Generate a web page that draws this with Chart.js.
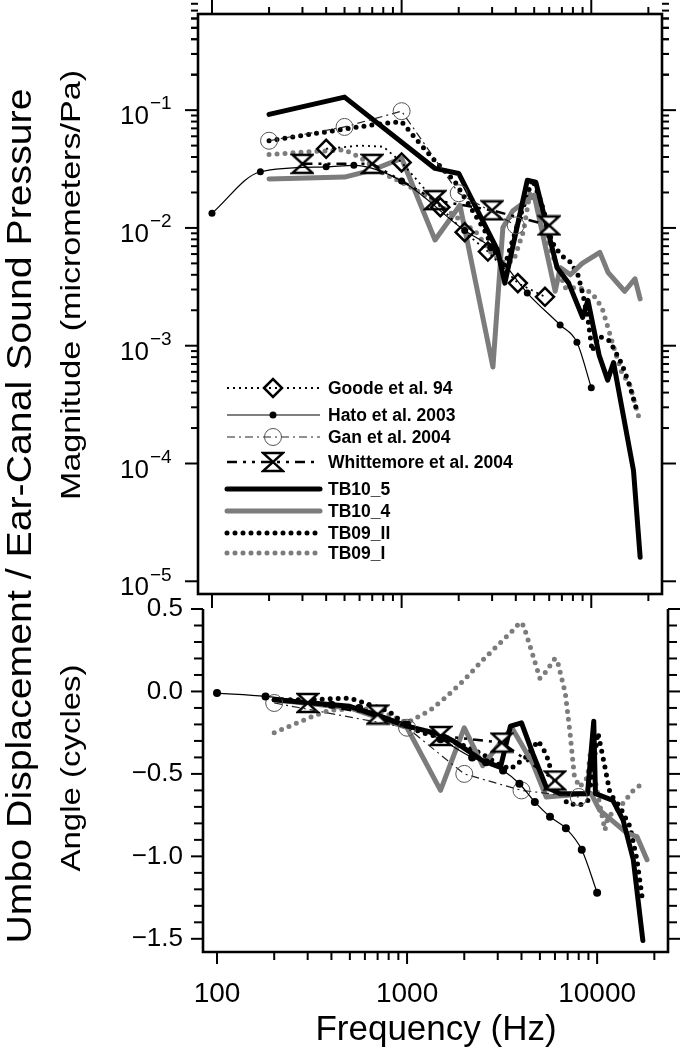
<!DOCTYPE html>
<html>
<head>
<meta charset="utf-8">
<script src="https://cdn.jsdelivr.net/npm/chart.js@4.4.1/dist/chart.umd.min.js"></script>
<style>
  html, body { margin: 0; padding: 0; background: #fff; }
  #wrap { position: relative; width: 680px; height: 1051px; }
  #wrap canvas { position: absolute; left: 0; top: 0; }
</style>
</head>
<body>
<div id="wrap">
  <canvas id="magChart" width="680" height="1051"></canvas>
  <canvas id="angChart" width="680" height="1051"></canvas>
</div>
<script>
const FONT = '"Liberation Sans", Arial, sans-serif';

// axes
const X_MIN = 84.4, X_MAX = 23600;
const xMajorTicks = [100, 1000, 10000];
const xMinorTicks = [200, 300, 400, 500, 600, 700, 800, 900, 2000, 3000, 4000, 5000, 6000, 7000, 8000, 9000, 20000];
const xTickLabels = ['100', '1000', '10000'];

const MAG_MIN = 7.8e-6, MAG_MAX = 0.655;
const magMajorTicks = [1e-1, 1e-2, 1e-3, 1e-4, 1e-5];
const magTickExponents = ['\u22121', '\u22122', '\u22123', '\u22124', '\u22125'];
const magMinorMantissas = [2, 3, 4, 5, 6, 7, 8, 9];

const ANG_MIN = -1.58, ANG_MAX = 0.5;
const angMajorTicks = [0.5, 0, -0.5, -1.0, -1.5];
const angTickLabels = ['0.5', '0.0', '\u22120.5', '\u22121.0', '\u22121.5'];
const angMinorStep = 0.1;

const seriesNames = ['Goode et al. 94', 'Hato et al. 2003', 'Gan et al. 2004', 'Whittemore et al. 2004',
                     'TB10_5', 'TB10_4', 'TB09_II', 'TB09_I'];

// magnitude data (micrometers/Pa)
const goodeMagFreq = [400, 600, 800, 1000, 1600, 2150, 2850, 4100, 5700];
const goodeMag = [0.047, 0.050, 0.049, 0.036, 0.015, 0.0092, 0.0063, 0.0034, 0.0026];
const goodeMarker = [1, 0, 0, 1, 1, 1, 1, 1, 1];

const hatoMagFreq = [100, 180, 400, 560, 1000, 2150, 2950, 4600, 6850, 8400, 10000];
const hatoMag = [0.0133, 0.030, 0.033, 0.034, 0.025, 0.0095, 0.0068, 0.0028, 0.0015, 0.00107, 0.00044];

const ganMagFreq = [200, 500, 1000, 2000, 4000];
const ganMag = [0.055, 0.072, 0.098, 0.0197, 0.0105];

const whitMagFreq = [300, 700, 1500, 3000, 6000];
const whitMag = [0.035, 0.035, 0.0172, 0.0141, 0.0105];

const tb105MagFreq = [200, 500, 1500, 2000, 3200, 3500, 4600, 5100, 6600, 7600, 9000, 9600, 11000, 12200, 13100, 16700, 18100];
const tb105Mag = [0.092, 0.129, 0.032, 0.029, 0.0065, 0.0034, 0.0254, 0.0245, 0.0046, 0.0034, 0.00174, 0.00243, 0.00083, 0.00051, 0.00072, 0.000087, 0.000016];

const tb104MagFreq = [200, 500, 700, 1000, 1500, 2030, 3030, 3420, 3860, 5000, 6450, 6860, 7760, 8960, 11100, 12250, 15000, 17000, 18100];
const tb104Mag = [0.026, 0.027, 0.031, 0.039, 0.0079, 0.0156, 0.00066, 0.0101, 0.014, 0.019, 0.0029, 0.0046, 0.0040, 0.0050, 0.0062, 0.0042, 0.0029, 0.0037, 0.0025];

const tb09iiMagFreq = [200, 300, 500, 700, 1000, 1200, 1500, 1900, 2200, 2800, 3000, 3300, 3500, 4200, 4900, 5400, 5700, 6200, 6900, 7800, 8500, 9000, 9600, 10100, 11000, 12500, 14500, 16000, 17200];
const tb09iiMag = [0.055, 0.061, 0.069, 0.075, 0.080, 0.056, 0.037, 0.025, 0.017, 0.009, 0.0067, 0.0056, 0.0048, 0.0123, 0.026, 0.0172, 0.0128, 0.0076, 0.0059, 0.0051, 0.0040, 0.0028, 0.0017, 0.0009, 0.0012, 0.0011, 0.0007, 0.00045, 0.0003];

const tb09iMagFreq = [200, 300, 500, 600, 800, 1000, 1400, 2000, 2500, 3000, 3500, 3900, 4400, 4750, 5200, 5500, 6100, 7300, 8700, 10100, 11400, 13300, 14500, 16000, 17900];
const tb09iMag = [0.042, 0.044, 0.046, 0.040, 0.029, 0.0245, 0.018, 0.012, 0.009, 0.006, 0.005, 0.0053, 0.0095, 0.020, 0.016, 0.011, 0.0065, 0.0031, 0.0031, 0.0028, 0.0021, 0.00091, 0.00059, 0.00046, 0.00024];

// angle data (cycles)
const hatoAngFreq = [100, 180, 400, 560, 1000, 1500, 2200, 2600, 3200, 3900, 4700, 5650, 6850, 8300, 10000];
const hatoAng = [-0.01, -0.03, -0.08, -0.10, -0.20, -0.29, -0.40, -0.43, -0.48, -0.56, -0.67, -0.76, -0.83, -0.96, -1.22];

const ganAngFreq = [200, 1000, 2000, 4000, 8000];
const ganAng = [-0.07, -0.22, -0.50, -0.60, -0.64];

const whitAngFreq = [300, 700, 1500, 3150, 6000];
const whitAng = [-0.07, -0.14, -0.27, -0.31, -0.54];

const tb105AngFreq = [200, 500, 1000, 1500, 1750, 2500, 3100, 3500, 4000, 4600, 5400, 6400, 8900, 9600, 9800, 12100, 13700, 15500, 17400];
const tb105Ang = [-0.05, -0.09, -0.21, -0.26, -0.30, -0.42, -0.46, -0.21, -0.19, -0.38, -0.58, -0.62, -0.62, -0.18, -0.62, -0.66, -0.78, -1.02, -1.51];

const tb104AngFreq = [200, 500, 1000, 1500, 2000, 2500, 3560, 4600, 5400, 6960, 8100, 9300, 10300, 14400, 16200, 18300];
const tb104Ang = [-0.05, -0.10, -0.22, -0.60, -0.22, -0.45, -0.22, -0.44, -0.64, -0.63, -0.62, -0.62, -0.72, -0.86, -0.88, -1.02];

const tb09iiAngFreq = [200, 300, 500, 600, 800, 1000, 1200, 1500, 2000, 2500, 3000, 3500, 4200, 4900, 5400, 5860, 6960, 8100, 9000, 10100, 11000, 11700, 13200, 14900, 16200, 17400];
const tb09iiAng = [-0.05, -0.05, -0.04, -0.07, -0.12, -0.21, -0.25, -0.28, -0.33, -0.38, -0.44, -0.47, -0.40, -0.30, -0.38, -0.52, -0.68, -0.69, -0.66, -0.25, -0.46, -0.62, -0.70, -0.82, -1.02, -1.28];

const tb09iAngFreq = [200, 320, 390, 560, 780, 1000, 1320, 1600, 2000, 2500, 3000, 3600, 3940, 4100, 4450, 5000, 5300, 6000, 6200, 6800, 7200, 7600, 8100, 8900, 9200, 10300, 11000, 11400, 13200, 15500, 17200];
const tb09iAng = [-0.25, -0.15, -0.115, -0.10, -0.135, -0.19, -0.115, -0.035, 0.07, 0.19, 0.28, 0.37, 0.42, 0.40, 0.27, 0.08, 0.11, 0.20, 0.18, -0.01, -0.25, -0.52, -0.58, -0.52, -0.38, -0.68, -0.84, -0.76, -0.70, -0.60, -0.56];

function pts(f, v) {
    return f.map((x, i) => ({ x: x, y: v[i] }));
}

// hourglass marker used by Whittemore
function makeHourglass() {
    const c = document.createElement('canvas');
    c.width = 24;
    c.height = 22;
    const g = c.getContext('2d');
    g.lineWidth = 2.4;
    g.strokeStyle = '#000';
    g.fillStyle = '#fff';
    g.lineJoin = 'miter';
    g.beginPath();
    g.moveTo(2, 2); g.lineTo(22, 2); g.lineTo(2, 20); g.lineTo(22, 20); g.closePath();
    g.fill();
    g.stroke();
    return c;
}
const hourglass = makeHourglass();

const GRAY = '#7c7c7c';

// dataset styles, one per series, in legend order
function styles(size) {
    return [
        { borderColor: '#000', borderWidth: 1.8, borderDash: [2, 4], pointStyle: 'rectRot', pointRadius: 9,
          pointBorderWidth: 2.5, pointBorderColor: '#000', pointBackgroundColor: 'rgba(0,0,0,0)' },
        { borderColor: '#000', borderWidth: 1.2, cubicInterpolationMode: 'monotone', pointStyle: 'circle',
          pointRadius: size, pointBorderWidth: 0, pointBackgroundColor: '#000', pointBorderColor: '#000' },
        { borderColor: '#222', borderWidth: 1.2, borderDash: [8, 4, 2, 4], pointStyle: 'circle', pointRadius: 8.5,
          pointBorderWidth: 1, pointBorderColor: '#555', pointBackgroundColor: 'rgba(0,0,0,0)' },
        { borderColor: '#000', borderWidth: 2.5, borderDash: [10, 6, 3, 6, 3, 6], pointStyle: hourglass, pointRadius: 10,
          pointBorderWidth: 0 },
        { borderColor: '#000', borderWidth: 5, pointRadius: 0, borderJoinStyle: 'round', borderCapStyle: 'round' },
        { borderColor: GRAY, borderWidth: 5, pointRadius: 0, borderJoinStyle: 'round', borderCapStyle: 'round' },
        { borderColor: '#000', borderWidth: 5, borderDash: [0, 8], borderCapStyle: 'round', pointRadius: 0 },
        { borderColor: GRAY, borderWidth: 5, borderDash: [0, 8], borderCapStyle: 'round', pointRadius: 0 }
    ];
}

function tick(ctx, x1, y1, x2, y2) {
    ctx.beginPath();
    ctx.moveTo(x1, y1);
    ctx.lineTo(x2, y2);
    ctx.stroke();
}

function rotatedText(ctx, text, cx, cy, px, len) {
    ctx.save();
    ctx.font = px + 'px ' + FONT;
    const w = ctx.measureText(text).width;
    ctx.translate(cx, cy);
    ctx.rotate(-Math.PI / 2);
    ctx.scale(len / w, 1);
    ctx.textAlign = 'center';
    ctx.textBaseline = 'middle';
    ctx.fillText(text, 0, 0);
    ctx.restore();
}

function xTickMarks(ctx, xs, y, dir, majorLen, minorLen) {
    ctx.lineWidth = 2;
    xMajorTicks.forEach(v => { const x = xs.getPixelForValue(v); tick(ctx, x, y, x, y + dir * majorLen); });
    xMinorTicks.forEach(v => { const x = xs.getPixelForValue(v); tick(ctx, x, y, x, y + dir * minorLen); });
}

// frame, ticks, labels and legend of the magnitude panel
const magAxes = {
    id: 'magAxes',
    afterDraw(chart) {
        const ctx = chart.ctx, a = chart.chartArea;
        const xs = chart.scales.x, ys = chart.scales.y;
        ctx.save();
        ctx.strokeStyle = '#000';
        ctx.fillStyle = '#000';
        ctx.lineWidth = 2.6;
        ctx.strokeRect(a.left, a.top, a.right - a.left, a.bottom - a.top);

        xTickMarks(ctx, xs, a.top, -1, 14, 7);
        xTickMarks(ctx, xs, a.bottom, 1, 14, 7);

        ctx.lineWidth = 2;
        magMajorTicks.forEach(v => {
            const y = ys.getPixelForValue(v);
            tick(ctx, a.left, y, a.left - 13, y);
            tick(ctx, a.right, y, a.right + 14, y);
        });
        magMajorTicks.slice(0, 4).forEach(d => {
            magMinorMantissas.forEach(m => {
                const v = d * m;
                const y = ys.getPixelForValue(v);
                tick(ctx, a.left, y, a.left - 7, y);
                tick(ctx, a.right, y, a.right + 7, y);
            });
        });
        magMinorMantissas.forEach(m => {
            const v = magMajorTicks[0] * m;
            if (v > MAG_MAX) return;
            const y = ys.getPixelForValue(v);
            tick(ctx, a.left, y, a.left - 7, y);
            tick(ctx, a.right, y, a.right + 7, y);
        });

        // y tick labels 10^-n
        magMajorTicks.forEach((v, i) => {
            const y = ys.getPixelForValue(v);
            ctx.textBaseline = 'middle';
            ctx.font = '26px ' + FONT;
            ctx.textAlign = 'right';
            ctx.fillText('10', 149, y + 7);
            ctx.font = '19px ' + FONT;
            ctx.textAlign = 'left';
            ctx.fillText(magTickExponents[i], 150, y - 6);
        });

        // legend
        const legendY = [388, 415, 437, 462, 489, 511, 533, 553];
        const x0 = 227, x1 = 320, xm = 273;
        chart.data.datasets.forEach((ds, i) => {
            const y = legendY[i];
            ctx.save();
            ctx.strokeStyle = ds.borderColor;
            ctx.lineWidth = ds.borderWidth;
            ctx.lineCap = ds.borderCapStyle || 'butt';
            ctx.setLineDash(ds.borderDash || []);
            tick(ctx, x0, y, x1, y);
            ctx.setLineDash([]);
            if (ds.legendMarker) {
                ctx.strokeStyle = ds.pointBorderColor || '#000';
                ctx.fillStyle = ds.pointBackgroundColor || '#000';
                ctx.lineWidth = ds.pointBorderWidth;
                Chart.helpers.drawPoint(ctx, {
                    pointStyle: ds.pointStyle, radius: ds.legendMarker, rotation: 0, borderWidth: ds.pointBorderWidth
                }, xm, y);
            }
            ctx.restore();
            ctx.font = 'bold 17.5px ' + FONT;
            ctx.textAlign = 'left';
            ctx.textBaseline = 'middle';
            ctx.fillStyle = '#000';
            ctx.fillText(ds.label, 328, y + 1);
        });
        ctx.restore();
    }
};

// frame, ticks, labels and titles of the angle panel
const angAxes = {
    id: 'angAxes',
    afterDraw(chart) {
        const ctx = chart.ctx, a = chart.chartArea;
        const xs = chart.scales.x, ys = chart.scales.y;
        ctx.save();
        ctx.strokeStyle = '#000';
        ctx.fillStyle = '#000';
        ctx.lineWidth = 2.6;
        ctx.beginPath();
        ctx.moveTo(a.left, a.top);
        ctx.lineTo(a.left, a.bottom);
        ctx.lineTo(a.right, a.bottom);
        ctx.lineTo(a.right, a.top);
        ctx.stroke();

        xTickMarks(ctx, xs, a.bottom, 1, 12, 8);

        ctx.lineWidth = 2;
        for (let v = angMajorTicks[angMajorTicks.length - 1]; v <= ANG_MAX + 1e-9; v += angMinorStep) {
            const y = ys.getPixelForValue(v);
            const major = angMajorTicks.some(m => Math.abs(m - v) < 1e-6);
            const len = major ? 12 : 9;
            tick(ctx, a.left, y, a.left - len, y);
            tick(ctx, a.right, y, a.right + len, y);
        }

        ctx.font = '26px ' + FONT;
        ctx.textAlign = 'right';
        ctx.textBaseline = 'middle';
        angMajorTicks.forEach((v, i) => {
            ctx.fillText(angTickLabels[i], 183, ys.getPixelForValue(v));
        });

        ctx.font = '28px ' + FONT;
        ctx.textAlign = 'center';
        xMajorTicks.forEach((v, i) => {
            ctx.fillText(xTickLabels[i], xs.getPixelForValue(v), 994);
        });
        ctx.font = '35px ' + FONT;
        ctx.fillText('Frequency (Hz)', 436, 1030);

        rotatedText(ctx, 'Umbo Displacement / Ear-Canal Sound Pressure', 21, 516, 35, 855);
        rotatedText(ctx, 'Magnitude (micrometers/Pa)', 72, 285, 28, 430);
        rotatedText(ctx, 'Angle (cycles)', 72, 768, 28, 207);
        ctx.restore();
    }
};

function baseOptions(padding, yScale) {
    return {
        responsive: false,
        animation: false,
        devicePixelRatio: 1,
        events: [],
        layout: { padding: padding },
        plugins: { legend: { display: false }, tooltip: { enabled: false } },
        scales: {
            x: { type: 'logarithmic', display: false, min: X_MIN, max: X_MAX },
            y: yScale
        }
    };
}

const magSt = styles(3.5);
const magSeries = [
    [goodeMagFreq, goodeMag], [hatoMagFreq, hatoMag], [ganMagFreq, ganMag], [whitMagFreq, whitMag],
    [tb105MagFreq, tb105Mag], [tb104MagFreq, tb104Mag], [tb09iiMagFreq, tb09iiMag], [tb09iMagFreq, tb09iMag]
];
const legendMarkerSize = [9, 3.5, 8.5, 10, 0, 0, 0, 0];
const magDatasets = magSeries.map((s, i) => Object.assign({
    label: seriesNames[i],
    data: pts(s[0], s[1]),
    fill: false,
    tension: 0,
    pointHoverRadius: 0,
    legendMarker: legendMarkerSize[i]
}, magSt[i]));
magDatasets[0].pointRadius = goodeMarker.map(m => m ? 9 : 0);

new Chart(document.getElementById('magChart'), {
    type: 'line',
    data: { datasets: magDatasets },
    options: baseOptions({ left: 198, top: 14, right: 18, bottom: 457 },
        { type: 'logarithmic', display: false, min: MAG_MIN, max: MAG_MAX }),
    plugins: [magAxes]
});

const angSt = styles(4);
const angSeries = [
    [hatoAngFreq, hatoAng, 1], [ganAngFreq, ganAng, 2], [whitAngFreq, whitAng, 3],
    [tb105AngFreq, tb105Ang, 4], [tb104AngFreq, tb104Ang, 5], [tb09iiAngFreq, tb09iiAng, 6], [tb09iAngFreq, tb09iAng, 7]
];
const angDatasets = angSeries.map(s => Object.assign({
    label: seriesNames[s[2]],
    data: pts(s[0], s[1]),
    fill: false,
    tension: 0,
    pointHoverRadius: 0
}, angSt[s[2]]));

new Chart(document.getElementById('angChart'), {
    type: 'line',
    data: { datasets: angDatasets },
    options: baseOptions({ left: 203, top: 609, right: 12, bottom: 99 },
        { type: 'linear', display: false, min: ANG_MIN, max: ANG_MAX }),
    plugins: [angAxes]
});
</script>
</body>
</html>
